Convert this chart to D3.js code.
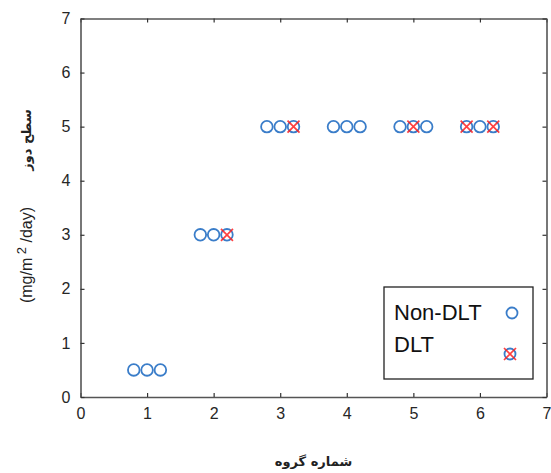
<!DOCTYPE html>
<html>
<head>
<meta charset="utf-8">
<script src="https://cdn.jsdelivr.net/npm/d3@7.9.0/dist/d3.min.js"></script>
<style>
  body { margin: 0; background: #fff; }
  svg { display: block; font-family: "Liberation Sans", Arial, sans-serif; }
</style>
</head>
<body>
<svg width="551" height="473"></svg>
<script>
// group positions (x) and dose level (y) for each marker
const nonDltX = [0.8, 1.0, 1.2, 1.8, 2.0, 2.8, 3.0, 3.8, 4.0, 4.2, 4.8, 5.2, 6.0];
const nonDltY = [0.5, 0.5, 0.5, 3, 3, 5, 5, 5, 5, 5, 5, 5, 5];
const dltX = [2.2, 3.2, 5.0, 5.8, 6.2];
const dltY = [3, 5, 5, 5, 5];
const xTicks = [0, 1, 2, 3, 4, 5, 6, 7];
const yTicks = [0, 1, 2, 3, 4, 5, 6, 7];

const blue = '#3a7dc9';
const red = '#ff2020';

const svg = d3.select('svg');
const mLeft = 80.5, mRight = 546.5, mTop = 18.5, mBottom = 397;

const x = d3.scaleLinear().domain([0, 7]).range([mLeft, mRight]);
const y = d3.scaleLinear().domain([0, 7]).range([mBottom, mTop]);

// axes with inward ticks
const xAxis = svg.append('g')
  .attr('transform', `translate(0,${mBottom})`)
  .call(d3.axisBottom(x).tickValues(xTicks).tickFormat(d3.format('d'))
    .tickSizeInner(-4).tickSizeOuter(0).tickPadding(11));
const xTop = svg.append('g')
  .attr('transform', `translate(0,${mTop})`)
  .call(d3.axisTop(x).tickValues(xTicks).tickSizeInner(-4).tickSizeOuter(0).tickFormat(''));
const yAxis = svg.append('g')
  .attr('transform', `translate(${mLeft},0)`)
  .call(d3.axisLeft(y).tickValues(yTicks).tickFormat(d3.format('d'))
    .tickSizeInner(-4).tickSizeOuter(0).tickPadding(10));
const yRight = svg.append('g')
  .attr('transform', `translate(${mRight},0)`)
  .call(d3.axisRight(y).tickValues(yTicks).tickSizeInner(-4).tickSizeOuter(0).tickFormat(''));

[xAxis, xTop, yAxis, yRight].forEach(g => {
  g.select('.domain').attr('stroke', '#555').attr('stroke-width', 1.6);
  g.selectAll('.tick line').attr('stroke', '#333').attr('stroke-width', 1.2);
  g.selectAll('.tick text').attr('fill', '#262626').style('font-size', '16px');
});

// markers
svg.append('g').selectAll('circle')
  .data(nonDltX.map((d, i) => [d, nonDltY[i]]).concat(dltX.map((d, i) => [d, dltY[i]])))
  .join('circle')
  .attr('cx', d => x(d[0]))
  .attr('cy', d => y(d[1]))
  .attr('r', 5.8)
  .attr('fill', 'none')
  .attr('stroke', blue)
  .attr('stroke-width', 1.8);

function cross(g, cx, cy) {
  const s = 6;
  g.append('path')
    .attr('d', `M${cx - s},${cy - s}L${cx + s},${cy + s}M${cx - s},${cy + s}L${cx + s},${cy - s}`)
    .attr('stroke', red)
    .attr('stroke-opacity', 0.85)
    .attr('stroke-width', 1.7);
}
const crosses = svg.append('g');
dltX.forEach((d, i) => cross(crosses, x(d), y(dltY[i])));

// legend
const lg = svg.append('g');
lg.append('rect')
  .attr('x', 384).attr('y', 287).attr('width', 149).attr('height', 92)
  .attr('fill', '#fff').attr('stroke', '#222').attr('stroke-width', 1.3);
lg.append('text').attr('x', 394).attr('y', 320).text('Non-DLT')
  .style('font-size', '22px').attr('fill', '#111');
lg.append('text').attr('x', 394).attr('y', 352).text('DLT')
  .style('font-size', '22px').attr('fill', '#111');
lg.append('circle').attr('cx', 512).attr('cy', 313).attr('r', 5.5)
  .attr('fill', 'none').attr('stroke', blue).attr('stroke-width', 1.8);
lg.append('circle').attr('cx', 510).attr('cy', 354).attr('r', 5.5)
  .attr('fill', 'none').attr('stroke', blue).attr('stroke-width', 1.8);
cross(lg, 510, 354);

// axis labels
svg.append('text')
  .attr('x', x(3.5)).attr('y', 466)
  .attr('text-anchor', 'middle')
  .style('font-family', '"DejaVu Sans", sans-serif')
  .style('font-size', '13px').style('font-weight', 'bold')
  .attr('fill', '#222')
  .text('شماره گروه');

svg.append('text')
  .attr('transform', 'translate(31,140) rotate(-90)')
  .attr('text-anchor', 'middle')
  .style('font-family', '"DejaVu Sans", sans-serif')
  .style('font-size', '13px').style('font-weight', 'bold')
  .attr('fill', '#222')
  .text('سطح دوز');

const unit = svg.append('text')
  .attr('transform', 'translate(32,255) rotate(-90)')
  .attr('text-anchor', 'middle')
  .style('font-size', '16px')
  .attr('fill', '#222');
unit.append('tspan').text('(mg/m');
unit.append('tspan').attr('dy', -6).style('font-size', '13px').text(' 2');
unit.append('tspan').attr('dy', 6).text(' /day)');
</script>
</body>
</html>
